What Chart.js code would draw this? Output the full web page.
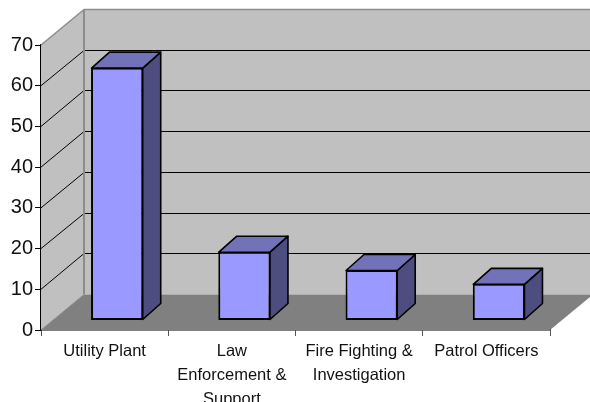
<!DOCTYPE html>
<html>
<head>
<meta charset="utf-8">
<title>Chart</title>
<script src="https://cdn.jsdelivr.net/npm/chart.js@4"></script>
<style>
    html, body { margin: 0; padding: 0; background: #fff; overflow: hidden; }
    canvas { display: block; }
</style>
</head>
<body>
<canvas id="myChart" width="590" height="402"></canvas>
<script>
// Données
const categories = [
    "Utility Plant",
    ["Law", "Enforcement &", "Support"],
    ["Fire Fighting &", "Investigation"],
    "Patrol Officers"
];
const valeurs = [62.1, 16.9, 12.4, 9];
const tickMax = 70;
const tickStep = 10;

// Profondeur du décor et des barres (pseudo 3D façon Excel)
const wallDx = 43, wallDy = -35.5;
const barOffsetX = 12.5, barOffsetY = -9.5;
const barDx = 18, barDy = -16;

function poly(ctx, points, fill, stroke, width) {
    ctx.beginPath();
    points.forEach((p, i) => i ? ctx.lineTo(p[0], p[1]) : ctx.moveTo(p[0], p[1]));
    ctx.closePath();
    if (fill) { ctx.fillStyle = fill; ctx.fill(); }
    if (stroke) { ctx.strokeStyle = stroke; ctx.lineWidth = width; ctx.stroke(); }
}

function line(ctx, x1, y1, x2, y2, color, width) {
    ctx.beginPath();
    ctx.moveTo(x1, y1);
    ctx.lineTo(x2, y2);
    ctx.strokeStyle = color;
    ctx.lineWidth = width;
    ctx.stroke();
}

const decor3d = {
    id: "decor3d",
    // Murs, sol et grille derrière les barres
    beforeDatasetsDraw(chart) {
        const { ctx, chartArea: a, scales } = chart;
        const yScale = scales.y;
        const y0 = yScale.getPixelForValue(0);
        const yMax = yScale.getPixelForValue(tickMax);
        ctx.save();
        // mur du fond
        poly(ctx, [[a.left + wallDx, yMax + wallDy], [a.right + wallDx, yMax + wallDy],
            [a.right + wallDx, y0 + wallDy], [a.left + wallDx, y0 + wallDy]], "#c0c0c0");
        // mur de gauche
        poly(ctx, [[a.left, yMax], [a.left + wallDx, yMax + wallDy],
            [a.left + wallDx, y0 + wallDy], [a.left, y0]], "#c0c0c0");
        // sol
        poly(ctx, [[a.left, y0], [a.right, y0], [a.right + wallDx, y0 + wallDy], [a.left + wallDx, y0 + wallDy]], "#808080");
        // grille (ligne du fond calée sur le pixel pour rester nette)
        yScale.ticks.forEach(t => {
            if (t.value === 0 || t.value === tickMax) return;
            const y = yScale.getPixelForValue(t.value);
            const yFond = Math.floor(y + wallDy) + 0.5;
            line(ctx, a.left, y, a.left + wallDx, yFond, "#000", 1);
            line(ctx, a.left + wallDx, yFond, a.right + wallDx, yFond, "#000", 1);
        });
        // arêtes grises
        line(ctx, a.left, yMax, a.left + wallDx, yMax + wallDy, "#8c8c8c", 1.5);
        line(ctx, a.left + wallDx, yMax + wallDy, a.right + wallDx, yMax + wallDy, "#8c8c8c", 1.5);
        line(ctx, a.left + wallDx, yMax + wallDy, a.left + wallDx, y0 + wallDy, "#8c8c8c", 2);
        line(ctx, a.left, y0, a.left + wallDx, y0 + wallDy, "#8c8c8c", 1);
        ctx.restore();
    },
    // Les barres sont décalées vers le fond de la scène
    beforeDatasetDraw(chart) {
        chart.ctx.save();
        chart.ctx.translate(barOffsetX, barOffsetY);
    },
    // Dessus et côté de chaque barre
    afterDatasetDraw(chart, args) {
        const ctx = chart.ctx;
        ctx.lineJoin = "round";
        chart.getDatasetMeta(args.index).data.forEach(bar => {
            const left = bar.x - bar.width / 2 + 0.5;
            const right = bar.x + bar.width / 2 - 0.5;
            const top = bar.y + 0.5;
            const bottom = bar.base - 0.5;
            poly(ctx, [[right, top], [right + barDx, top + barDy], [right + barDx, bottom + barDy], [right, bottom]],
                "#4d4d80", "#000", 1.6);
            poly(ctx, [[left, top], [left + barDx, top + barDy], [right + barDx, top + barDy], [right, top]],
                "#7272b8", "#000", 1.6);
        });
        ctx.restore();
    }
};

new Chart(document.getElementById("myChart"), {
    type: "bar",
    data: {
        labels: categories,
        datasets: [{
            data: valeurs,
            backgroundColor: "#9999ff",
            borderColor: "#000",
            borderWidth: 2,
            borderSkipped: false,
            barPercentage: 1,
            categoryPercentage: 0.41
        }]
    },
    plugins: [decor3d],
    options: {
        responsive: false,
        animation: false,
        layout: { padding: { top: 45, right: 40, left: 0, bottom: 0 } },
        plugins: {
            legend: { display: false },
            tooltip: { enabled: false }
        },
        scales: {
            x: {
                afterFit: s => { s.height = 72; },
                grid: { offset: true, drawOnChartArea: false, color: "#555", tickLength: 6, tickColor: "#555" },
                border: { color: "#000", width: 1.5 },
                ticks: {
                    autoSkip: false,
                    maxRotation: 0,
                    padding: 3,
                    color: "#111",
                    font: { family: "'Liberation Sans', Arial, sans-serif", size: 16.5, lineHeight: 1.46 }
                }
            },
            y: {
                min: 0,
                max: tickMax,
                afterFit: s => { s.width = 41; },
                grid: { drawOnChartArea: false, color: "#000", tickLength: 6 },
                border: { color: "#000", width: 1.5 },
                ticks: {
                    stepSize: tickStep,
                    padding: 2,
                    color: "#111",
                    font: { family: "'Liberation Sans', Arial, sans-serif", size: 20 }
                }
            }
        }
    }
});
</script>
</body>
</html>
